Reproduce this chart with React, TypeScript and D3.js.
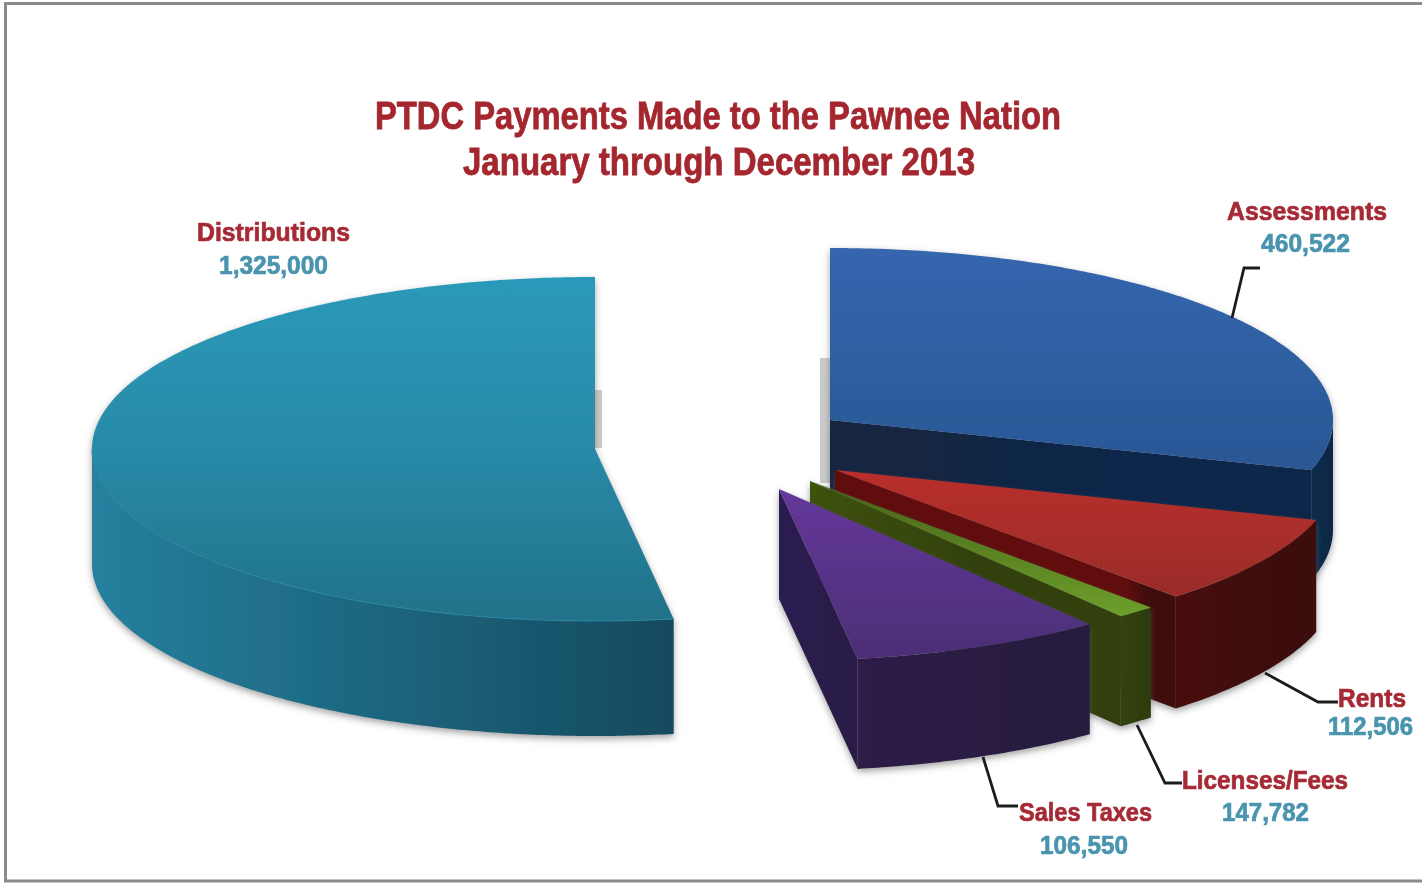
import React from "react";
import * as d3 from "d3";

// ---- data -------------------------------------------------------------
const categories = ["Assessments", "Rents", "Licenses/Fees", "Sales Taxes", "Distributions"];
const printedValues = [460522, 112506, 147782, 106550, 1325000];
// Share of the ellipse that each slice occupies as drawn in the picture, in percent
const drawnShares = [29.7, 8.45, 1.25, 8.1, 52.5];
const titleLines = ["PTDC Payments Made to the Pawnee Nation", "January through December 2013"];

// ---- style and layout --------------------------------------------------
const topColors = [
  ["#3566ae", "#2b5b9a", "#27508a"],
  ["#bb302b", "#b92f2a", "#8e2b28"],
  ["#3f5a18", "#46621a", "#78b030"],
  ["#64389a", "#64389a", "#4b2e75"],
  ["#2b99b9", "#288aa8", "#227288"],
];
const sideColors = [
  ["#0d2a4d", "#0c2848"],
  ["#470f0d", "#3a0e0c"],
  ["#34430f", "#2d3b10"],
  ["#2d1c48", "#261a3c"],
  ["#25809e", "#154a5e"],
];
const cutColors = [
  ["#13253f", "#102848"],
  ["#620a0c", "#3f0d0c"],
  ["#3f5210", "#303f10"],
  ["#2c1d52", "#2b1c4a"],
  null,
];
const centers: [number, number][] = [[830, 420], [835, 470], [810, 481], [779, 489], [595, 449]];
const depths = [110, 112, 110, 110, 115];
const RX = 503;
const RY = 172;
const drawOrder = [4, 0, 1, 2, 3];

const leaders: [number, number][][] = [
  [[1232, 318], [1244, 268], [1260, 268]],
  [[1265, 673], [1318, 702], [1338, 702]],
  [[1137, 725], [1165, 783], [1182, 783]],
  [[983, 757], [998, 806], [1018, 806]],
];
// [name x, name width, name baseline, value x, value width, value baseline]
const labelBoxes = [
  [1227, 160, 220, 1261, 89, 252],
  [1338, 68, 707, 1328, 85, 735],
  [1182, 166, 789, 1222, 87, 821],
  [1019, 133, 821, 1040, 88, 854],
  [197, 153, 241, 219, 109, 274],
];
const titleBoxes = [[375, 686, 129], [463, 512, 175]];

const FONT = "'Liberation Sans', Arial, sans-serif";
const NAME = "#a62b36";
const VALUE = "#4a94ae";

const pie = d3.pie<number>().sort(null).value((d) => d).startAngle(0).endAngle(2 * Math.PI);
const arcs = pie(drawnShares);
const fmt = d3.format(",");
const line = d3.line<[number, number]>();

const pt = (i: number, t: number, dz = 0): [number, number] => [
  centers[i][0] + RX * Math.sin(t),
  centers[i][1] - RY * Math.cos(t) + dz,
];
const sample = (a: number, b: number) => {
  const n = Math.max(2, Math.ceil(Math.abs(b - a) / 0.01));
  return d3.range(n + 1).map((k) => a + ((b - a) * k) / n);
};

function Slice({ i }: { i: number }) {
  const { startAngle: a, endAngle: b } = arcs[i];
  const d = depths[i];
  const apex = centers[i];
  const rim = sample(a, b).map((t) => pt(i, t));
  const top = line([apex, ...rim])! + "Z";
  const sa = Math.max(a, Math.PI / 2);
  const sb = Math.min(b, (3 * Math.PI) / 2);
  const topEdge = sample(sa, sb).map((t) => pt(i, t));
  const botEdge = sample(sb, sa).map((t) => pt(i, t, d));
  const side = sb > sa ? line([...topEdge, ...botEdge])! + "Z" : null;
  const end = pt(i, b);
  const cc = cutColors[i];
  const cut = cc ? line([apex, end, [end[0], end[1] + d], [apex[0], apex[1] + d]])! + "Z" : null;
  const xs = d3.extent([...topEdge, end].map((p) => p[0])) as [number, number];
  const sideX = i === 4 ? [92, 675] : [xs[0], xs[1]];
  const rimD = line(sample(sa, sb).map((t) => pt(i, t)))!;
  return (
    <g filter="url(#shadow)">
      <defs>
        <linearGradient id={`top${i}`} gradientUnits="userSpaceOnUse" x1="0" x2="0"
          y1={apex[1] - RY} y2={apex[1] + RY}>
          <stop offset="0" stopColor={topColors[i][0]} />
          <stop offset="0.5" stopColor={topColors[i][1]} />
          <stop offset="1" stopColor={topColors[i][2]} />
        </linearGradient>
        <linearGradient id={`side${i}`} gradientUnits="userSpaceOnUse" y1="0" y2="0"
          x1={sideX[0]} x2={sideX[1]}>
          <stop offset="0" stopColor={sideColors[i][0]} />
          <stop offset="1" stopColor={sideColors[i][1]} />
        </linearGradient>
        {cc && (
          <linearGradient id={`cut${i}`} gradientUnits="userSpaceOnUse" y1="0" y2="0"
            x1={apex[0]} x2={end[0]}>
            <stop offset="0" stopColor={cc[0]} />
            <stop offset={i === 1 ? 0.85 : 0.6} stopColor={cc[i === 1 ? 0 : 1]} />
            <stop offset={i === 1 ? 0.92 : 1} stopColor={cc[1]} />
          </linearGradient>
        )}
      </defs>
      {cut && <path d={cut} fill={`url(#cut${i})`} />}
      {side && <path d={side} fill={`url(#side${i})`} />}
      <path d={top} fill={`url(#top${i})`} />
      {i === 4 && <path d={rimD} fill="none" stroke="#2b86a4" strokeWidth={1} />}
    </g>
  );
}

export default function App() {
  return (
    <svg width={1422} height={883} viewBox="0 0 1422 883"
      style={{ position: "absolute", left: 0, top: 0, display: "block", background: "#fff" }}>
      <defs>
        <filter id="soft" x="-2%" y="-2%" width="104%" height="104%">
          <feGaussianBlur stdDeviation="0.7" />
        </filter>
        <filter id="shadow" x="-5%" y="-5%" width="110%" height="112%">
          <feDropShadow dx="0" dy="3" stdDeviation="3.5" floodColor="#555" floodOpacity="0.55" />
        </filter>
      </defs>
      <g filter="url(#soft)">
        <rect x={0} y={0} width={1422} height={883} fill="#fff" />
        <path d="M1422,3.5H5.5V881H1422" fill="none" stroke="#8a8a8a" strokeWidth={3} />
        <rect x={595} y={390} width={7} height={58} fill="#cfccc8" />
        <rect x={820} y={358} width={10} height={125} fill="#cbcbcb" />
        {drawOrder.map((i) => <Slice key={categories[i]} i={i} />)}
        {leaders.map((pts, k) => (
          <path key={k} d={line(pts)!} fill="none" stroke="#1e1e1e" strokeWidth={2.8} />
        ))}
        <g fontFamily={FONT} fontWeight={700}>
          {titleLines.map((s, k) => (
            <text key={s} x={titleBoxes[k][0]} y={titleBoxes[k][2]} fontSize={38} fill="#a4262e"
              stroke="#a4262e" strokeWidth={0.8}
              textLength={titleBoxes[k][1]} lengthAdjust="spacingAndGlyphs">{s}</text>
          ))}
          {categories.map((c, i) => (
            <g key={c} strokeWidth={0.7}>
              <text x={labelBoxes[i][0]} y={labelBoxes[i][2]} fill={NAME} stroke={NAME} fontSize={26}
                textLength={labelBoxes[i][1]} lengthAdjust="spacingAndGlyphs">{c}</text>
              <text x={labelBoxes[i][3]} y={labelBoxes[i][5]} fill={VALUE} stroke={VALUE} fontSize={25}
                textLength={labelBoxes[i][4]} lengthAdjust="spacingAndGlyphs">{fmt(printedValues[i])}</text>
            </g>
          ))}
        </g>
      </g>
    </svg>
  );
}
